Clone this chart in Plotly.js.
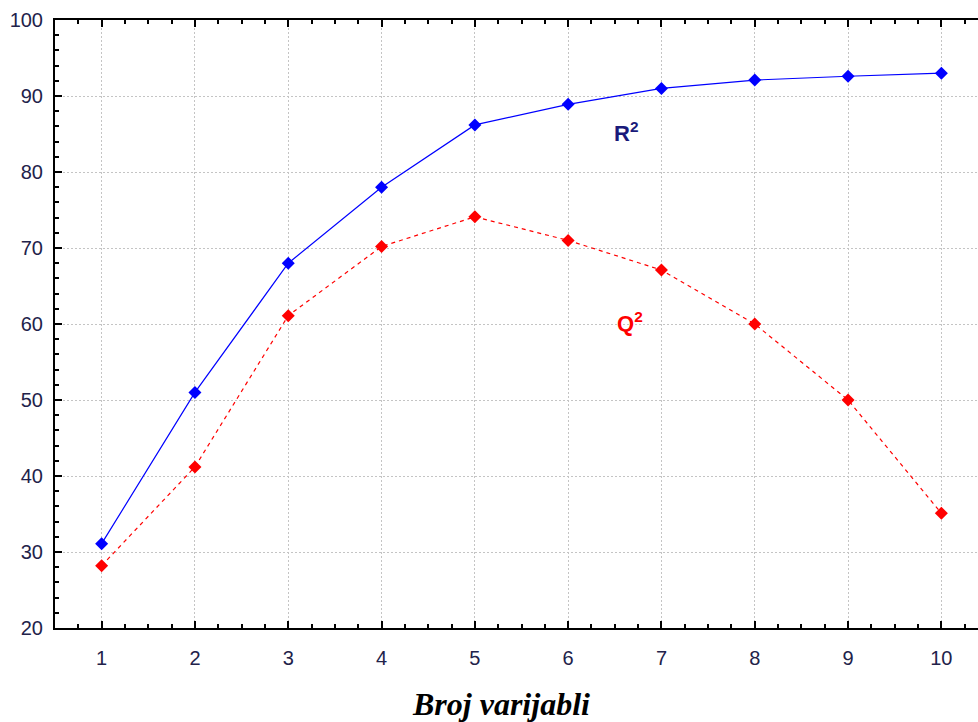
<!DOCTYPE html>
<html>
<head>
<meta charset="utf-8">
<script src="https://cdn.plot.ly/plotly-3.0.1.min.js"></script>
<style>
html,body{margin:0;padding:0;overflow:hidden;background:#fff;}
#chart{width:990px;height:722px;}
</style>
</head>
<body>
<div id="chart"></div>
<script>
var categories = [1, 2, 3, 4, 5, 6, 7, 8, 9, 10];
var r2Values = [31.1, 51.0, 68.0, 78.0, 86.2, 88.9, 91.0, 92.1, 92.6, 93.0];
var q2Values = [28.2, 41.2, 61.1, 70.2, 74.1, 71.0, 67.1, 60.0, 50.0, 35.1];
var xTickLabels = ['1','2','3','4','5','6','7','8','9','10'];
var yTickValues = [20, 30, 40, 50, 60, 70, 80, 90, 100];
var xTitle = 'Broj varijabli';
var r2Label = 'R<sup>2</sup>';
var q2Label = 'Q<sup>2</sup>';

var tickFont = {family: 'Liberation Sans, Arial, sans-serif', size: 20, color: '#22224a'};

var traces = [
  {
    x: categories, y: r2Values, type: 'scatter', mode: 'lines+markers',
    line: {color: '#0000ff', width: 1.2},
    marker: {symbol: 'diamond', size: 10, color: '#0000ff'},
    hoverinfo: 'skip', showlegend: false
  },
  {
    x: categories, y: q2Values, type: 'scatter', mode: 'lines+markers',
    line: {color: '#ff0000', width: 1.2, dash: '4px,4px'},
    marker: {symbol: 'diamond', size: 10, color: '#ff0000'},
    hoverinfo: 'skip', showlegend: false
  }
];

var layout = {
  width: 990, height: 722,
  margin: {l: 55, r: 2, t: 20, b: 94},
  paper_bgcolor: '#ffffff', plot_bgcolor: '#ffffff',
  xaxis: {
    range: [0.5, 10.5],
    tickvals: categories, ticktext: xTickLabels,
    showline: true, linecolor: '#000', linewidth: 2, mirror: 'allticks',
    ticks: 'inside', ticklen: 7, tickwidth: 2, tickcolor: '#000',
    tickfont: tickFont, ticklabelstandoff: 11,
    showgrid: true, gridcolor: '#c4c4c4', gridwidth: 1, griddash: '2px,2px',
    zeroline: false,
    minor: {dtick: 0.25, tick0: 0.5, ticks: 'inside', ticklen: 4, tickwidth: 2, tickcolor: '#000', showgrid: false}
  },
  yaxis: {
    range: [20, 100],
    tickvals: yTickValues,
    showline: true, linecolor: '#000', linewidth: 2, mirror: 'allticks',
    ticks: 'inside', ticklen: 7, tickwidth: 2, tickcolor: '#000',
    tickfont: tickFont, ticklabelstandoff: 6,
    showgrid: true, gridcolor: '#c4c4c4', gridwidth: 1, griddash: '2px,2px',
    zeroline: false,
    minor: {dtick: 2, ticks: 'inside', ticklen: 4, tickwidth: 2, tickcolor: '#000', showgrid: false}
  },
  annotations: [
    {x: 6.62, y: 85.2, xref: 'x', yref: 'y', text: '<b>' + r2Label + '</b>', showarrow: false,
     font: {family: 'Liberation Sans, Arial, sans-serif', size: 22, color: '#1a1a7a'}},
    {x: 6.66, y: 60.2, xref: 'x', yref: 'y', text: '<b>' + q2Label + '</b>', showarrow: false,
     font: {family: 'Liberation Sans, Arial, sans-serif', size: 22, color: '#ff0000'}},
    {x: 0.478, y: -0.125, xref: 'paper', yref: 'paper', text: '<b><i>' + xTitle + '</i></b>', showarrow: false,
     yanchor: 'middle',
     font: {family: 'Liberation Serif, Times New Roman, serif', size: 32, color: '#000'}}
  ]
};

Plotly.newPlot('chart', traces, layout, {staticPlot: true, displayModeBar: false});
</script>
</body>
</html>
